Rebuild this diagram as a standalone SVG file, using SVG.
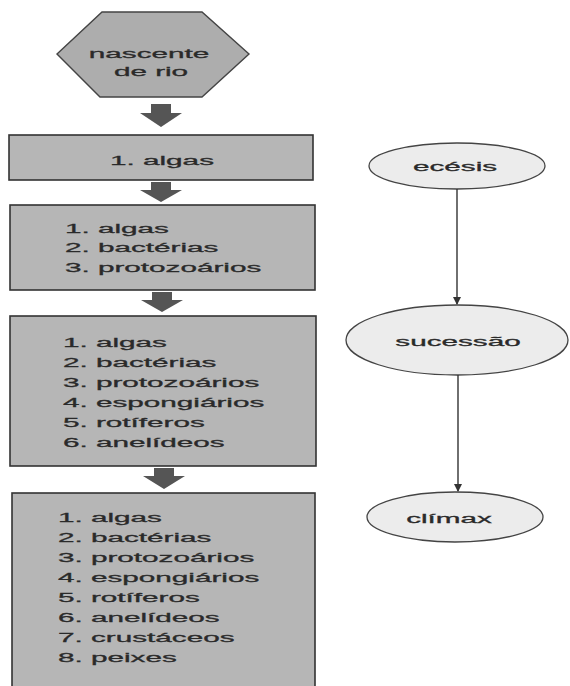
<svg xmlns="http://www.w3.org/2000/svg" width="570" height="686" viewBox="0 0 570 686">
<defs>
<style>
.box{fill:#b6b6b6;stroke:#333;stroke-width:1.6}
.hex{fill:#adadad;stroke:#444;stroke-width:1.4}
.ell{fill:#ececec;stroke:#444;stroke-width:1.3}
.fat{fill:#555}
.t{font-family:"Liberation Sans",Arial,sans-serif;font-size:13.5px;fill:#2a2a2a;stroke:#2a2a2a;stroke-width:0.3}
.c{text-anchor:middle}
.ln{stroke:#333;stroke-width:1.4;fill:none}
</style>
<marker id="ah" markerWidth="8" markerHeight="8" refX="7" refY="4" orient="auto" markerUnits="userSpaceOnUse">
<path d="M0,0 L8,4 L0,8 Z" fill="#333"/>
</marker>
</defs>
<rect width="570" height="686" fill="#fff"/>

<g id="nascente">
<polygon class="hex" points="102,12 202,12 249,54 202,97 100,97 57,54"/>
<text class="t c" transform="matrix(2.2 0 0 1 149 58)">nascente</text>
<text class="t c" transform="matrix(2.2 0 0 1 151 76)">de rio</text>
</g>

<g id="etapa1">
<rect class="box" x="9" y="135" width="304" height="45"/>
<text class="t c" transform="matrix(2.2 0 0 1 162 165)">1. algas</text>
</g>

<g id="etapa2">
<rect class="box" x="10" y="205" width="305" height="85"/>
<text class="t" transform="matrix(2.2 0 0 1 65 233)"><tspan x="0" y="0">1. algas</tspan><tspan x="0" y="19.5">2. bactérias</tspan><tspan x="0" y="39">3. protozoários</tspan></text>
</g>

<g id="etapa3">
<rect class="box" x="10" y="316" width="306" height="150"/>
<text class="t" transform="matrix(2.2 0 0 1 63 347)"><tspan x="0" y="0">1. algas</tspan><tspan x="0" y="20">2. bactérias</tspan><tspan x="0" y="40">3. protozoários</tspan><tspan x="0" y="60">4. espongiários</tspan><tspan x="0" y="80">5. rotíferos</tspan><tspan x="0" y="100">6. anelídeos</tspan></text>
</g>

<g id="etapa4">
<rect class="box" x="12" y="493" width="303" height="200"/>
<text class="t" transform="matrix(2.2 0 0 1 58 522)"><tspan x="0" y="0">1. algas</tspan><tspan x="0" y="20">2. bactérias</tspan><tspan x="0" y="40">3. protozoários</tspan><tspan x="0" y="60">4. espongiários</tspan><tspan x="0" y="80">5. rotíferos</tspan><tspan x="0" y="100">6. anelídeos</tspan><tspan x="0" y="120">7. crustáceos</tspan><tspan x="0" y="140">8. peixes</tspan></text>
</g>

<g id="ecesis">
<ellipse class="ell" cx="457" cy="166" rx="88" ry="23"/>
<text class="t c" transform="matrix(2.2 0 0 1 455 171)">ecésis</text>
</g>

<g id="sucessao">
<ellipse class="ell" cx="457" cy="340" rx="111" ry="35"/>
<text class="t c" transform="matrix(2.2 0 0 1 458 346)">sucessão</text>
</g>

<g id="climax">
<ellipse class="ell" cx="455" cy="517" rx="88" ry="25"/>
<text class="t c" transform="matrix(2.2 0 0 1 449 523)">clímax</text>
</g>

<g id="connectors">
<path class="fat" d="M151,104 H171 V113 H182 L161,127 L140,113 H151 Z"/>
<path class="fat" d="M151,182 H171 V190 H182 L161,202 L140,190 H151 Z"/>
<path class="fat" d="M152,292 H172 V300 H183 L162,312 L141,300 H152 Z"/>
<path class="fat" d="M154,468 H174 V476 H185 L164,489 L143,476 H154 Z"/>
<line class="ln" x1="457" y1="189" x2="457" y2="304" marker-end="url(#ah)"/>
<line class="ln" x1="458" y1="375" x2="458" y2="491" marker-end="url(#ah)"/>
</g>
</svg>
